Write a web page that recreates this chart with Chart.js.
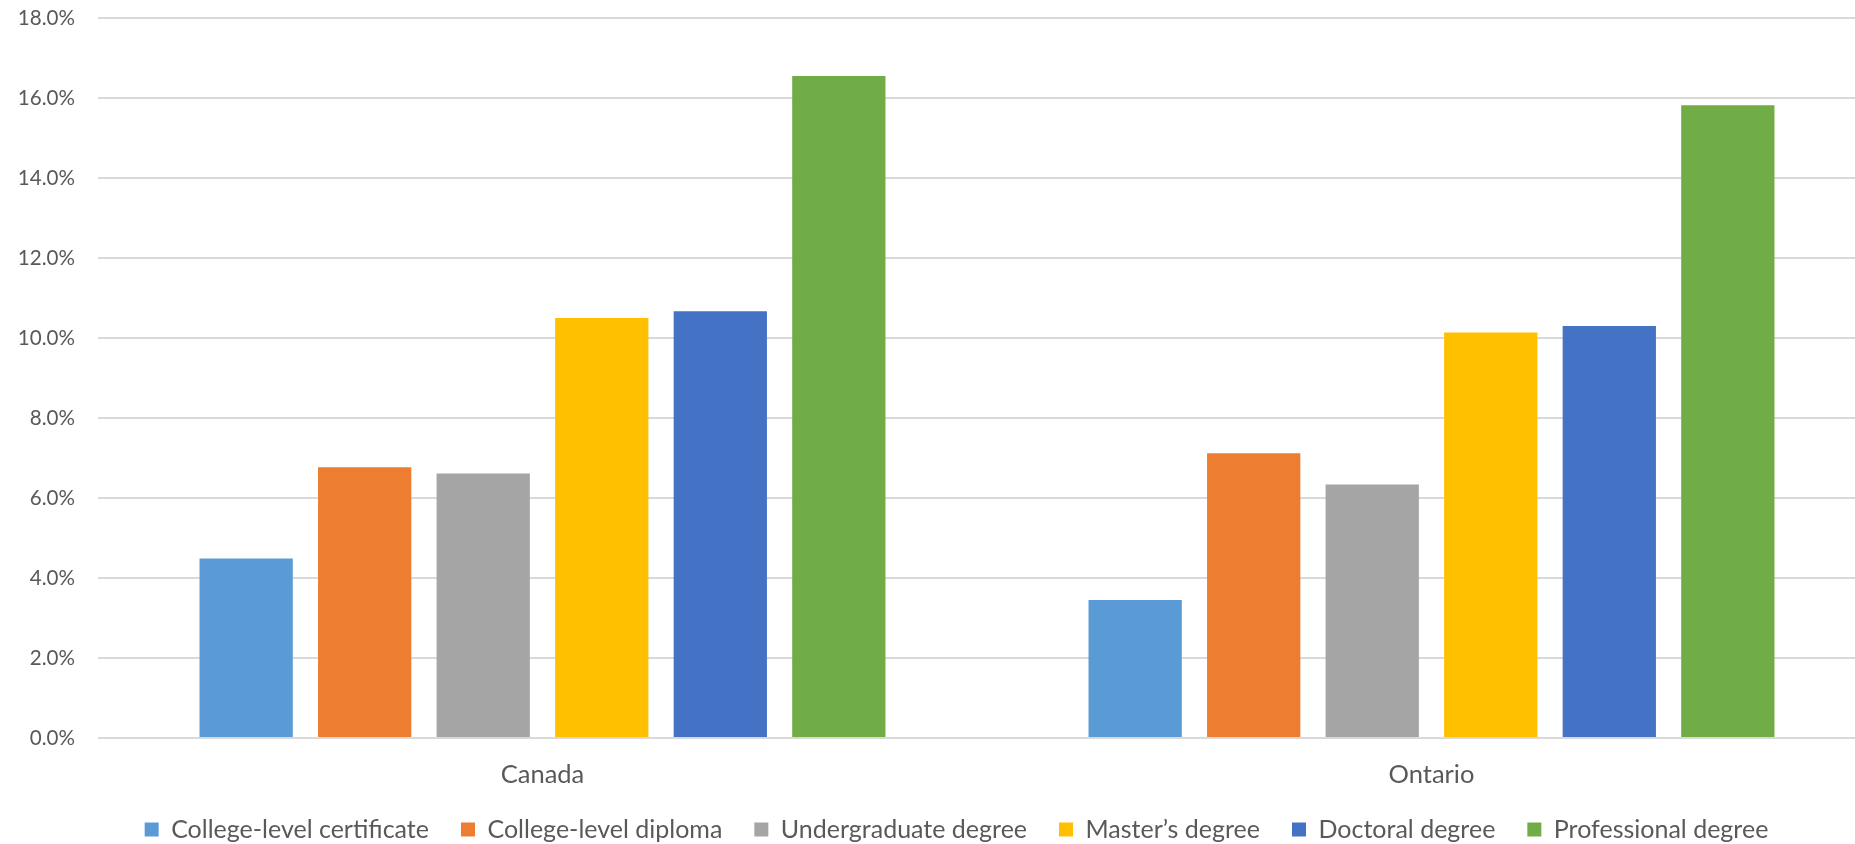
<!DOCTYPE html>
<html>
<head>
<meta charset="utf-8">
<script src="https://cdn.jsdelivr.net/npm/chart.js@4"></script>
<style>
  html, body { margin: 0; padding: 0; background: #ffffff; overflow: hidden; }
  #wrap { width: 1855px; height: 844px; overflow: hidden; position: relative; }
  canvas { display: block; position: absolute; left: 0; top: 0; }
</style>
</head>
<body>
<div id="wrap"><canvas id="chart" width="1913" height="844" style="width:1913px;height:844px"></canvas></div>
<script>
// Regions on the category axis
const regions = ["Canada", "Ontario"];

// Share by credential level (%), one array per credential
const collegeCertificate = [4.49, 3.45];
const collegeDiploma     = [6.77, 7.12];
const undergraduate      = [6.61, 6.34];
const masters            = [10.50, 10.14];
const doctoral           = [10.67, 10.30];
const professional       = [16.55, 15.82];

const seriesNames = [
  "College-level certificate",
  "College-level diploma",
  "Undergraduate degree",
  "Master\u2019s degree",
  "Doctoral degree",
  "Professional degree"
];
const seriesValues = [collegeCertificate, collegeDiploma, undergraduate, masters, doctoral, professional];
const seriesColors = ["#5B9BD5", "#ED7D31", "#A5A5A5", "#FFC000", "#4472C4", "#70AD47"];

// Value axis range
const yMin = 0;
const yMax = 18;
const yStep = 2;

const textColor = "#595959";
const fontFamily = "Lato, 'Open Sans', sans-serif";

const datasets = seriesNames.map((name, i) => ({
  label: name,
  data: seriesValues[i],
  backgroundColor: seriesColors[i],
  borderWidth: 0,
  barPercentage: 0.787,
  categoryPercentage: 0.80
}));

new Chart(document.getElementById("chart"), {
  type: "bar",
  data: { labels: regions, datasets },
  options: {
    responsive: false,
    maintainAspectRatio: false,
    animation: false,
    devicePixelRatio: 1,
    layout: { padding: { top: 18, left: 0, right: 0, bottom: 0 } },
    scales: {
      x: {
        grid: { display: false, drawTicks: false },
        border: { display: false },
        ticks: { color: textColor, font: { family: fontFamily, size: 25.5, lineHeight: 1 }, padding: 24 },
        afterFit: (scale) => {
          scale.height = 47;
          scale.paddingTop = 0;
          scale.paddingBottom = 0;
        }
      },
      y: {
        min: yMin,
        max: yMax,
        grid: { color: "#d9d9d9", lineWidth: 2, drawTicks: false },
        border: { display: false },
        ticks: {
          stepSize: yStep,
          color: textColor,
          font: { family: fontFamily, size: 20.6 },
          padding: 23,
          callback: (v) => v.toFixed(1) + "%"
        },
        afterFit: (scale) => {
          scale.width = 98;
          scale.paddingTop = 0;
          scale.paddingBottom = 0;
        }
      },
      // empty right-hand margin beside the plot
      yRight: {
        position: "right",
        display: true,
        grid: { display: false, drawTicks: false },
        border: { display: false },
        ticks: { display: false },
        afterFit: (scale) => {
          scale.width = 37;
          scale.paddingTop = 0;
          scale.paddingBottom = 0;
        }
      }
    },
    plugins: {
      legend: {
        position: "bottom",
        maxHeight: 59,
        labels: {
          color: textColor,
          font: { family: fontFamily, size: 25 },
          boxWidth: 14,
          boxHeight: 14,
          padding: 32
        }
      },
      tooltip: { enabled: false }
    }
  }
});
</script>
</body>
</html>
